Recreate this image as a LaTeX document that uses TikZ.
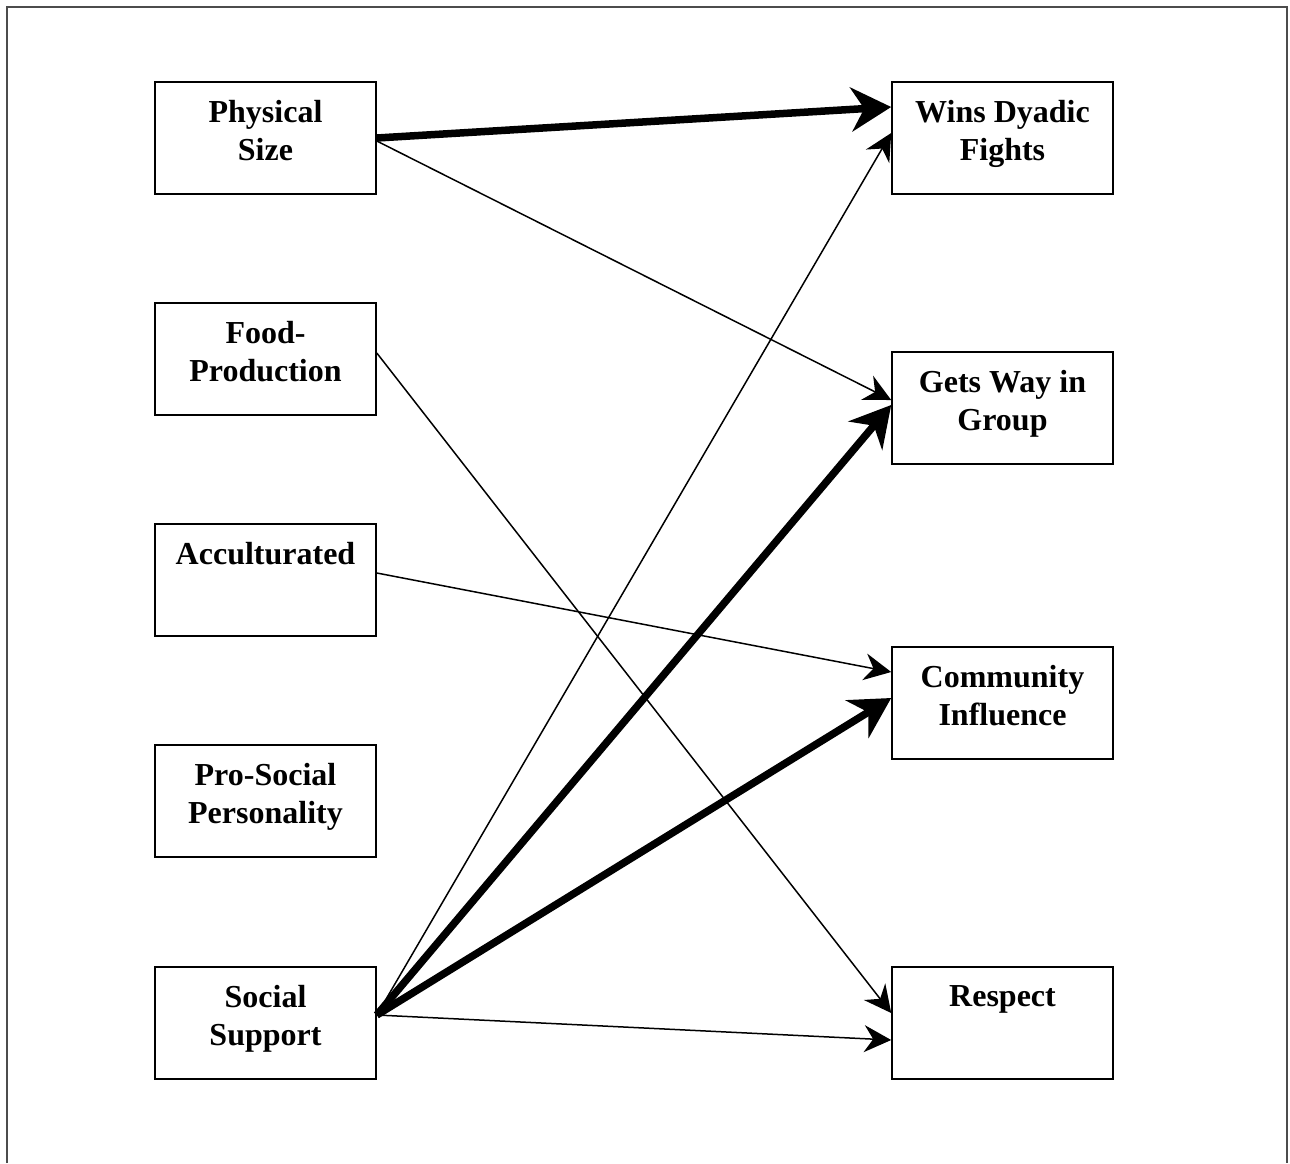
\documentclass[tikz,border=0pt]{standalone}
\usepackage{fontspec}
\setmainfont{Liberation Serif}
\usetikzlibrary{arrows.meta}
\tikzset{
  box/.style={draw=black, line width=1.6pt, minimum width=221pt, minimum height=112pt, inner sep=0pt},
  lbl/.style={anchor=north, inner sep=0pt, align=center, font=\fontsize{32}{37.5}\selectfont\bfseries},
  thin/.style={line width=1.5pt, -{Stealth[length=27pt,width=27pt,inset=9pt]}},
  thick/.style={line width=7.5pt, -{Stealth[length=40pt,width=44pt,inset=13pt]}},
  frame/.style={draw=black!70, line width=2pt}
}
\begin{document}
\begin{tikzpicture}[x=1pt,y=-1pt]
\useasboundingbox (0,0) rectangle (1290,1163);
\draw[frame] (7,1163) -- (7,7) -- (1287,7) -- (1287,1163);
% left boxes
\node[box] (ps) at (265.5,138) {};
\node[box] (fp) at (265.5,359) {};
\node[box] (ac) at (265.5,580) {};
\node[box] (pp) at (265.5,801) {};
\node[box] (ss) at (265.5,1023) {};
% right boxes
\node[box] (wd) at (1002.5,138) {};
\node[box] (gw) at (1002.5,408) {};
\node[box] (ci) at (1002.5,703) {};
\node[box] (re) at (1002.5,1023) {};
% labels
\node[lbl] (ps-t) at ([yshift=-19pt]ps.north) {Physical\\Size};
\node[lbl] (fp-t) at ([yshift=-19pt]fp.north) {Food-\\Production};
\node[lbl] (ac-t) at ([yshift=-19pt]ac.north) {Acculturated};
\node[lbl] (pp-t) at ([yshift=-19pt]pp.north) {Pro-Social\\Personality};
\node[lbl] (ss-t) at ([yshift=-19pt]ss.north) {Social\\Support};
\node[lbl] (wd-t) at ([yshift=-19pt]wd.north) {Wins Dyadic\\Fights};
\node[lbl] (gw-t) at ([yshift=-19pt]gw.north) {Gets Way in\\Group};
\node[lbl] (ci-t) at ([yshift=-19pt]ci.north) {Community\\Influence};
\node[lbl] (re-t) at ([yshift=-19pt]re.north) {Respect};
% connectors
\draw[thin] ([yshift=-3pt]ps.east) -- ([yshift=8pt]gw.west);
\draw[thin] ([yshift=6pt]fp.east) -- ([yshift=10pt]re.west);
\draw[thin] ([yshift=7pt]ac.east) -- ([yshift=31pt]ci.west);
\draw[thin] ([yshift=8pt]ss.east) -- ([yshift=5pt]wd.west);
\draw[thin] ([yshift=8pt]ss.east) -- ([yshift=-17pt]re.west);
\draw[thick] (ps.east) -- ([yshift=31pt]wd.west);
\draw[thick] ([yshift=8pt]ss.east) -- ([yshift=3pt]gw.west);
\draw[thick] ([yshift=8pt]ss.east) -- ([yshift=5pt]ci.west);
\end{tikzpicture}
\end{document}
